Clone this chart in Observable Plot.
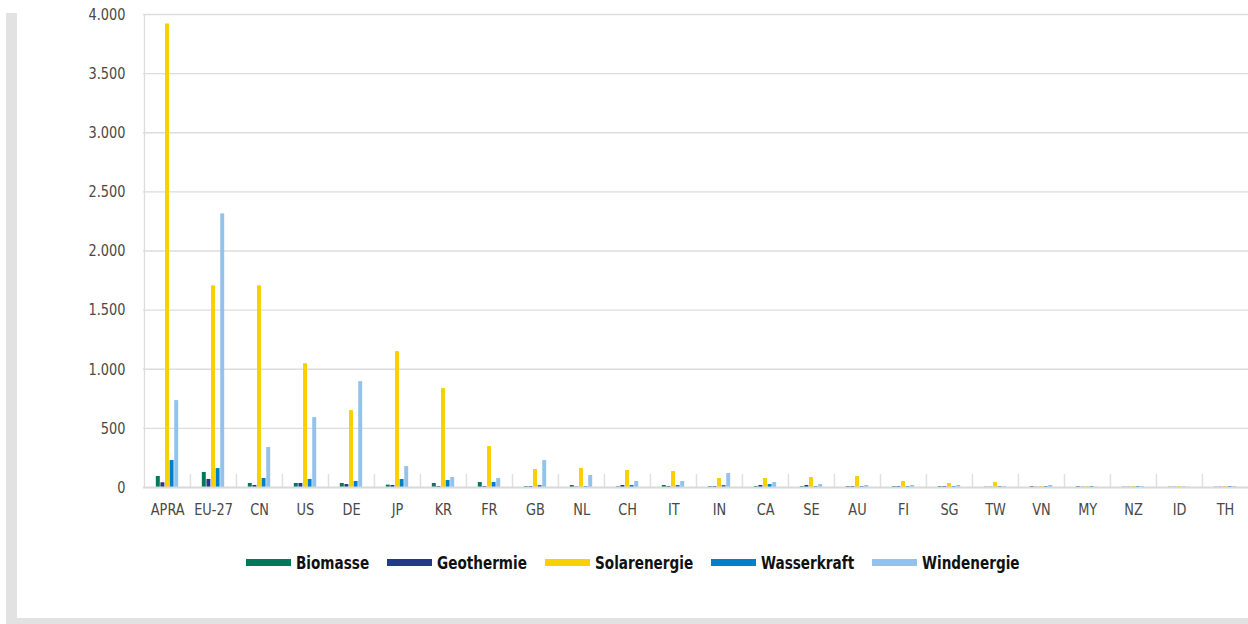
<!DOCTYPE html>
<html>
<head>
<meta charset="utf-8">
<script src="https://cdn.jsdelivr.net/npm/d3@7"></script>
<script src="https://cdn.jsdelivr.net/npm/@observablehq/plot@0.6"></script>
<style>
  html, body { margin: 0; padding: 0; background: #ffffff; }
  body { position: relative; width: 1248px; height: 624px; overflow: hidden; font-family: "DejaVu Sans Condensed", "Liberation Sans Narrow", sans-serif; }
  #chart { position: absolute; left: 0; top: 0; }
  .frame { position: absolute; background: #e2e2e2; }
  #legend { position: absolute; left: 17px; width: 1231px; top: 552px; display: flex; justify-content: center; align-items: center; font-weight: bold; font-size: 18px; color: #111; }
  .item { display: flex; align-items: center; margin: 0 9px; }
  .sw { display: inline-block; width: 45px; height: 7px; margin-right: 5px; }
  .labwrap { display: inline-block; white-space: nowrap; }
  .lab { display: inline-block; transform-origin: left center; transform: scaleX(0.84); }
</style>
</head>
<body>
<div id="chart"></div>
<div class="frame" style="left:6px; top:13px; width:11px; height:611px;"></div>
<div class="frame" style="left:6px; top:618px; width:1242px; height:6px;"></div>
<div id="legend"></div>
<script>
const countries = ["APRA","EU-27","CN","US","DE","JP","KR","FR","GB","NL","CH","IT","IN","CA","SE","AU","FI","SG","TW","VN","MY","NZ","ID","TH"];
const series = ["Biomasse","Geothermie","Solarenergie","Wasserkraft","Windenergie"];
const colors = ["#00785a","#22398c","#f9d000","#0080c9","#95c2ea"];
const biomasse    = [93,127,34,34,34,20,34,42,8,17,6,17,8,8,8,8,8,8,3,8,8,3,3,3];
const geothermie  = [40,68,17,34,25,17,8,8,8,4,17,8,8,17,17,8,8,8,3,3,3,3,3,3];
const solarenergie= [3920,1706,1706,1047,650,1149,836,346,152,160,144,135,76,76,84,93,51,34,42,8,8,8,8,8];
const wasserkraft = [228,160,76,68,51,68,59,42,17,8,17,17,17,25,8,8,8,8,8,8,8,8,3,8];
const windenergie = [735,2314,338,591,895,177,84,76,228,101,51,51,118,42,25,17,17,17,8,17,3,8,3,8];
const yTicks = [0,500,1000,1500,2000,2500,3000,3500,4000];

const values = [biomasse, geothermie, solarenergie, wasserkraft, windenergie];
const rows = countries.flatMap((c, j) => series.map((s, i) => ({country: c, series: s, value: values[i][j]})));
const fmt = d => d3.format(",")(d).replace(/,/g, ".");

const band = (1248 - 143) / countries.length;
const barW = 4, step = 4.6;
const lead = (band - (step * 4 + barW)) / 2;

const chart = Plot.plot({
  width: 1248,
  height: 540,
  marginLeft: 143,
  marginRight: 0,
  marginTop: 14,
  marginBottom: 53,
  style: {background: "transparent", fontFamily: "'DejaVu Sans Condensed', 'Liberation Sans Narrow', sans-serif", fontSize: "16.5px", color: "#484848"},
  x: {domain: countries, padding: 0, label: null, tickSize: 0, tickPadding: 16},
  y: {domain: [0, 4000], ticks: yTicks, tickFormat: fmt, tickSize: 0, tickPadding: 18, label: null},
  marks: [
    Plot.ruleY(yTicks.slice(1), {stroke: "#dcdcdc", strokeWidth: 1.3}),
    Plot.ruleX(countries.slice(0, 1), {x: d => d, dx: -band / 2, y1: 0, y2: 4000, stroke: "#dcdcdc", strokeWidth: 1.3}),
    Plot.ruleX(countries.slice(1), {x: d => d, dx: -band / 2, y1: 0, y2: 110, stroke: "#e0e0e0", strokeWidth: 1.5}),
    ...series.map((s, i) => Plot.barY(rows.filter(r => r.series === s), {
      x: "country", y: "value", fill: colors[i],
      insetLeft: lead + step * i, insetRight: band - (lead + step * i) - barW
    })),
    Plot.ruleY([0], {stroke: "#d9d9d9", strokeWidth: 2})
  ]
});
document.getElementById("chart").appendChild(chart);

// condense tick label glyphs (narrow typeface in the original), keeping each anchor in place
const sx = 0.87;
chart.querySelectorAll("text").forEach(t => {
  const r0 = t.getBoundingClientRect();
  const isY = r0.right < 140;
  const tr = t.getAttribute("transform") || "";
  t.setAttribute("transform", (tr + " scale(" + sx + ",1)").trim());
  const r1 = t.getBoundingClientRect();
  const shift = isY ? (r0.right - r1.right) : ((r0.left + r0.right) / 2 - (r1.left + r1.right) / 2);
  t.setAttribute("transform", (tr + " translate(" + shift + ",0) scale(" + sx + ",1)").trim());
});

const legend = document.getElementById("legend");
series.forEach((s, i) => {
  const item = document.createElement("div");
  item.className = "item";
  const sw = document.createElement("span");
  sw.className = "sw";
  sw.style.background = colors[i];
  const wrap = document.createElement("span");
  wrap.className = "labwrap";
  const lab = document.createElement("span");
  lab.className = "lab";
  lab.textContent = s;
  wrap.appendChild(lab);
  item.appendChild(sw);
  item.appendChild(wrap);
  legend.appendChild(item);
  wrap.style.width = (lab.offsetWidth * 0.84) + "px";
});
</script>
</body>
</html>
